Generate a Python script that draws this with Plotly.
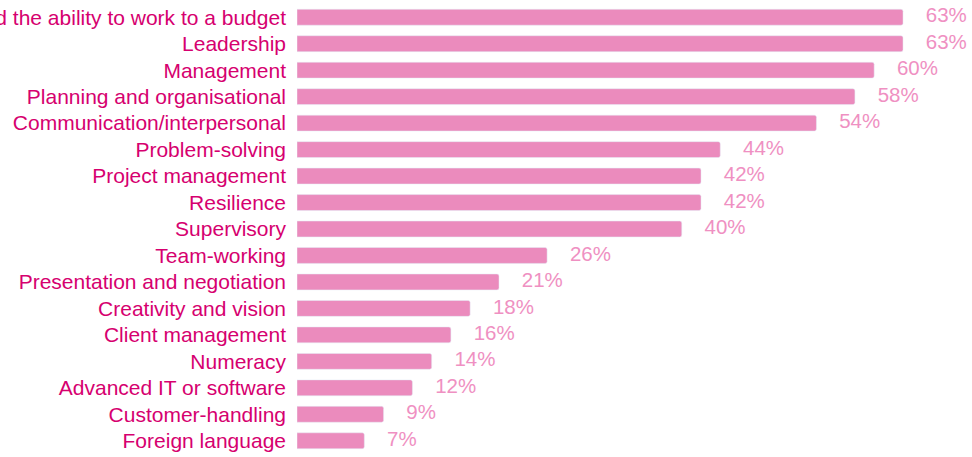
import plotly.graph_objects as go

skills = [
    "Financial management and the ability to work to a budget",
    "Leadership",
    "Management",
    "Planning and organisational",
    "Communication/interpersonal",
    "Problem-solving",
    "Project management",
    "Resilience",
    "Supervisory",
    "Team-working",
    "Presentation and negotiation",
    "Creativity and vision",
    "Client management",
    "Numeracy",
    "Advanced IT or software",
    "Customer-handling",
    "Foreign language",
]
shares = [63, 63, 60, 58, 54, 44, 42, 42, 40, 26, 21, 18, 16, 14, 12, 9, 7]

fig = go.Figure()
fig.add_trace(
    go.Bar(
        x=shares,
        y=skills,
        orientation="h",
        marker=dict(color="#eb8bbd", cornerradius=2),
        width=0.6,
        hoverinfo="skip",
    )
)
# value labels as a text trace so they are not pushed around near the edge
fig.add_trace(
    go.Scatter(
        x=shares,
        y=skills,
        mode="text",
        text=["\u00a0\u00a0\u00a0\u00a0" + str(v) + "%" for v in shares],
        textposition="middle right",
        textfont=dict(color="#ef90c2", size=20.5, family="Liberation Sans, Arial"),
        cliponaxis=False,
        hoverinfo="skip",
    )
)

fig.update_yaxes(
    range=[len(skills) - 0.5, -0.5],
    automargin=False,
    showgrid=False,
    showline=False,
    zeroline=False,
    ticklabelstandoff=10,
    tickfont=dict(color="#d6006f", size=21, family="Liberation Sans, Arial"),
)
fig.update_xaxes(
    range=[0, 70.17],
    visible=False,
    automargin=False,
)

fig.update_layout(
    width=972,
    height=457,
    margin=dict(l=297, r=0, t=4, b=3),
    paper_bgcolor="white",
    plot_bgcolor="white",
    showlegend=False,
    bargap=0.4,
)

# the page's default body margin would push the chart 8px right and down
fig.write_html(
    "out.html",
    config={"displayModeBar": False},
    post_script="document.body.style.margin='0';",
)
